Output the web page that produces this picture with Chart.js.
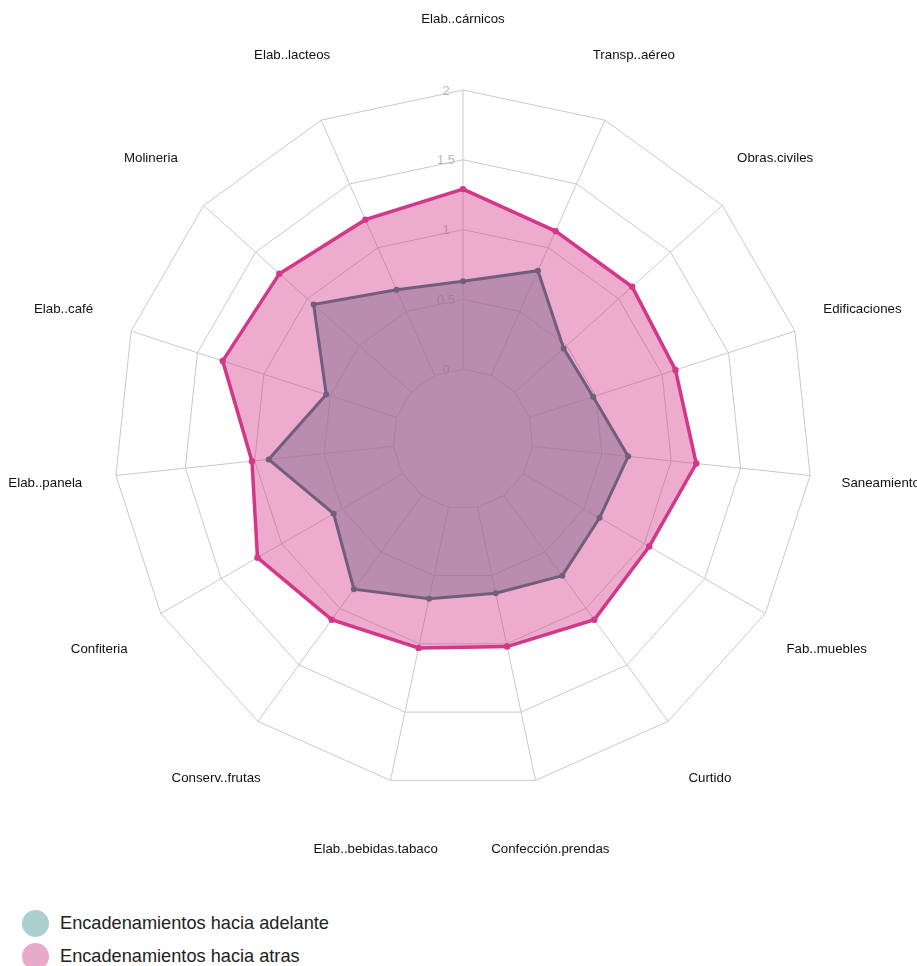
<!DOCTYPE html>
<html>
<head>
<meta charset="utf-8">
<script src="https://cdn.jsdelivr.net/npm/chart.js@4.4.1/dist/chart.umd.min.js"></script>
<style>
  html, body { margin: 0; padding: 0; background: #fff; }
  #wrap { position: relative; width: 917px; height: 966px; }
  #c { position: absolute; left: 0; top: 0; }
  #legend { position: absolute; left: 22px; top: 907px; font-family: "Liberation Sans", Arial, sans-serif; font-size: 18.2px; color: #222; }
  .item { display: flex; align-items: center; height: 33px; }
  .dot { width: 27px; height: 27px; border-radius: 50%; margin-right: 11px; }
</style>
</head>
<body>
<div id="wrap">
  <canvas id="c" width="917" height="890"></canvas>
  <div id="legend"></div>
</div>
<script>
const categories = ["Elab..cárnicos", "Transp..aéreo", "Obras.civiles", "Edificaciones", "Saneamiento", "Fab..muebles", "Curtido", "Confección.prendas", "Elab..bebidas.tabaco", "Conserv..frutas", "Confiteria", "Elab..panela", "Elab..café", "Molineria", "Elab..lacteos"];
const adelante = [0.63, 0.82, 0.47, 0.48, 0.69, 0.63, 0.71, 0.63, 0.67, 0.83, 0.57, 0.90, 0.53, 0.94, 0.67];
const atras = [1.29, 1.13, 1.13, 1.10, 1.18, 1.04, 1.10, 1.02, 1.03, 1.10, 1.20, 1.02, 1.31, 1.27, 1.22];
const seriesNames = ["Encadenamientos hacia adelante", "Encadenamientos hacia atras"];
const tickValues = [0, 0.5, 1, 1.5, 2];

const FONT = '"Liberation Sans", Arial, sans-serif';

const customGrid = {
  id: 'customGrid',
  beforeDatasetsDraw(chart) {
    const s = chart.scales.r;
    const ctx = chart.ctx;
    ctx.save();
    ctx.strokeStyle = '#c9c9c9';
    ctx.lineWidth = 1;
    for (let i = 0; i < categories.length; i++) {
      const a = s.getPointPositionForValue(i, 0);
      const b = s.getPointPositionForValue(i, 2);
      ctx.beginPath();
      ctx.moveTo(a.x, a.y);
      ctx.lineTo(b.x, b.y);
      ctx.stroke();
    }
    ctx.fillStyle = '#b8b8b8';
    ctx.font = '13px ' + FONT;
    ctx.textAlign = 'center';
    ctx.textBaseline = 'middle';
    tickValues.forEach(v => {
      const p = s.getPointPositionForValue(0, v);
      ctx.fillText(String(v), p.x - 17, p.y + 1);
    });
    ctx.restore();
  },
  afterDraw(chart) {
    const s = chart.scales.r;
    const ctx = chart.ctx;
    ctx.save();
    ctx.fillStyle = '#111';
    ctx.font = '13.3px ' + FONT;
    ctx.textAlign = 'center';
    ctx.textBaseline = 'middle';
    categories.forEach((lab, i) => {
      const p = s.getPointPosition(i, s.drawingArea + 71);
      ctx.fillText(lab, p.x, p.y);
    });
    ctx.restore();
  }
};

const colors = {
  adelanteLine: '#2a7a72',
  adelanteFill: 'rgba(112,170,168,0.62)',
  atrasLine: '#d3378a',
  atrasFill: 'rgba(212,54,138,0.42)'
};

new Chart(document.getElementById('c'), {
  type: 'radar',
  data: {
    labels: categories,
    datasets: [
      {
        label: seriesNames[0],
        data: adelante,
        borderColor: colors.adelanteLine,
        backgroundColor: colors.adelanteFill,
        pointBackgroundColor: colors.adelanteLine,
        pointBorderColor: colors.adelanteLine,
        pointRadius: 3,
        pointBorderWidth: 0,
        borderWidth: 3,
        fill: 'start',
        order: 2
      },
      {
        label: seriesNames[1],
        data: atras,
        borderColor: colors.atrasLine,
        backgroundColor: colors.atrasFill,
        pointBackgroundColor: colors.atrasLine,
        pointBorderColor: colors.atrasLine,
        pointRadius: 3.2,
        pointBorderWidth: 0,
        borderWidth: 3.5,
        fill: 'start',
        order: 1
      }
    ]
  },
  options: {
    responsive: false,
    animation: false,
    layout: { padding: { left: 113, right: 104, top: 90, bottom: 101 } },
    plugins: { legend: { display: false }, tooltip: { enabled: false } },
    elements: { line: { tension: 0 } },
    scales: {
      r: {
        min: -0.5,
        max: 2,
        startAngle: 0,
        ticks: { display: false, stepSize: 0.5 },
        grid: { color: '#c9c9c9', lineWidth: 1 },
        angleLines: { display: false },
        pointLabels: { display: false }
      }
    }
  },
  plugins: [customGrid]
});

const legend = document.getElementById('legend');
const legendColors = ['#acd0cf', '#e8aacb'];
seriesNames.forEach((n, i) => {
  const it = document.createElement('div');
  it.className = 'item';
  const d = document.createElement('span');
  d.className = 'dot';
  d.style.background = legendColors[i];
  const t = document.createElement('span');
  t.textContent = n;
  it.appendChild(d);
  it.appendChild(t);
  legend.appendChild(it);
});
</script>
</body>
</html>
